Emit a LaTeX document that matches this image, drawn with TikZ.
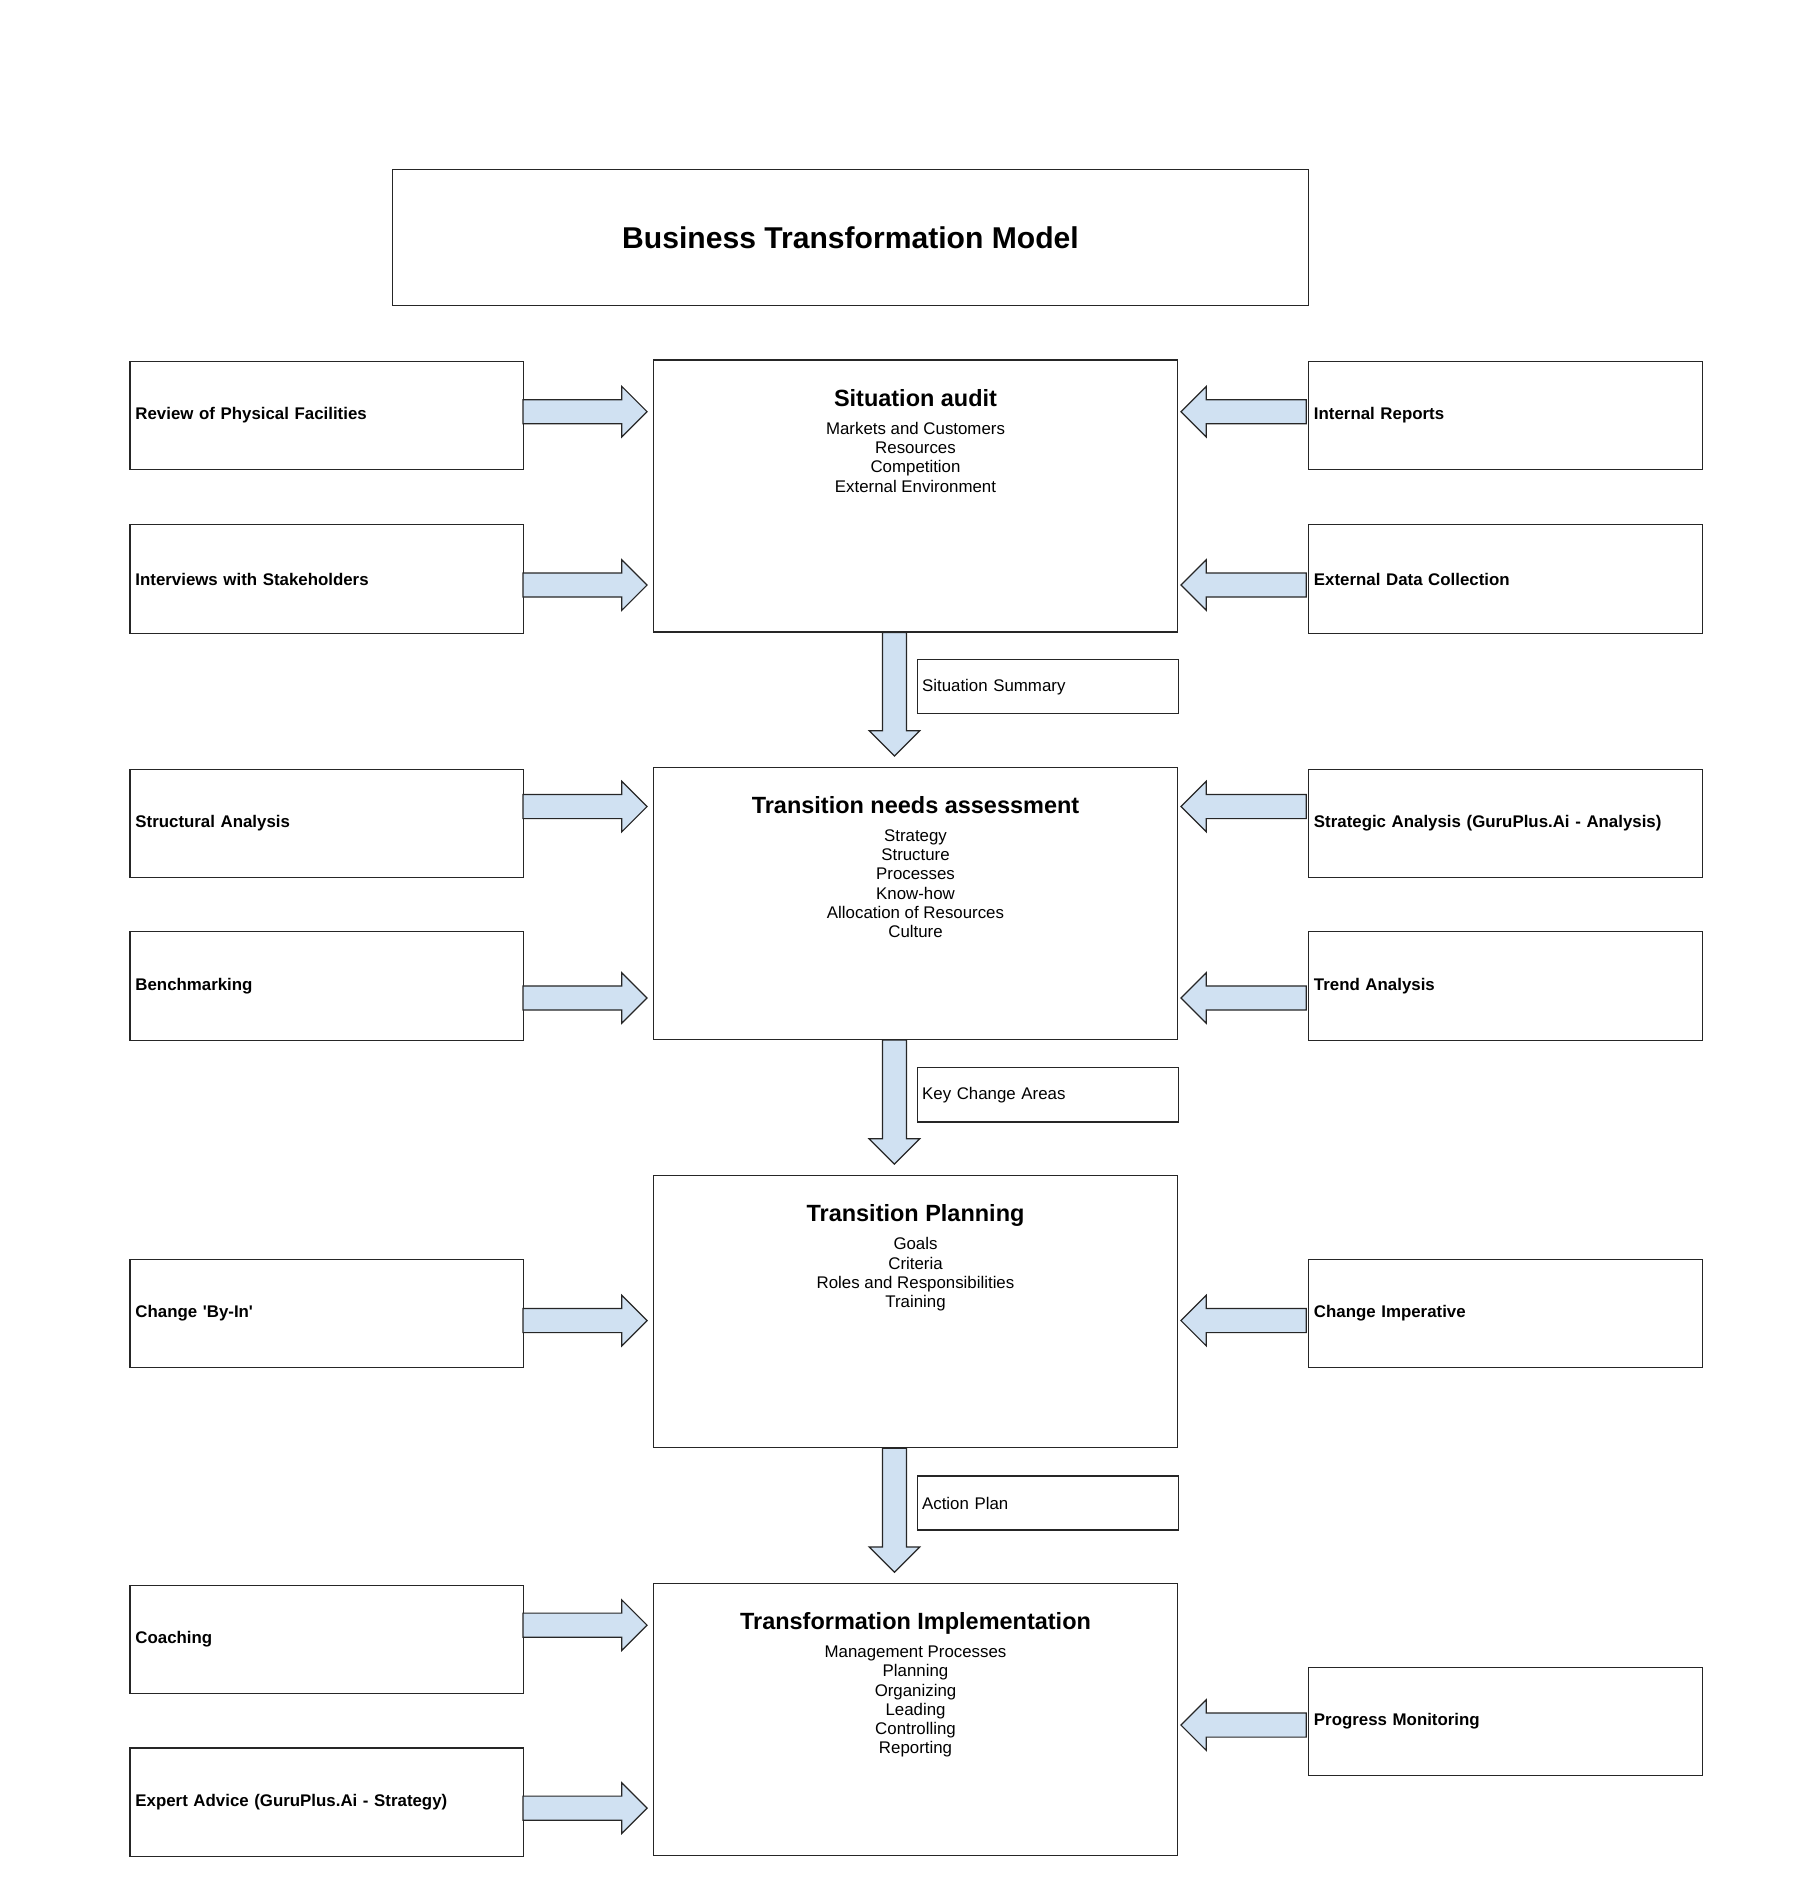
\documentclass[tikz,border=0pt]{standalone}
\usepackage{fontspec}
\setmainfont{Liberation Sans}
\usetikzlibrary{calc}

\definecolor{arrowblue}{RGB}{208,225,242}

% block arrow from start #1 to tip #2
\newcommand{\fatarrow}[2]{%
	\coordinate (h) at ($(#2)!21pt!(#1)$);
	\draw[fat] ($(#1)!10pt!90:(#2)$) -- ($(h)!10pt!90:(#2)$) -- ($(h)!21pt!90:(#2)$) -- (#2)
		-- ($(h)!21pt!-90:(#2)$) -- ($(h)!10pt!-90:(#2)$) -- ($(#1)!10pt!-90:(#2)$) -- cycle;}

\begin{document}
\begin{tikzpicture}
	[x=1pt,y=-1pt,
	 box/.style={draw=black!85, line width=1pt, rectangle, inner sep=0pt},
	 side/.style={box, minimum width=327pt, minimum height=90pt, text width=318pt, align=left,
		font=\bfseries\fontsize{14}{16}\selectfont},
	 stage/.style={box, minimum width=435pt, minimum height=226pt},
	 head/.style={anchor=base, font=\bfseries\fontsize{19.5}{23}\selectfont},
	 items/.style={anchor=north, inner sep=0pt, align=center, font=\fontsize{14}{16}\selectfont},
	 tag/.style={box, minimum width=217pt, minimum height=45pt, text width=209pt, align=left,
		font=\fontsize{14}{16}\selectfont},
	 fat/.style={draw=black!85, line width=1pt, fill=arrowblue, line join=miter}]
	\useasboundingbox (0,0) rectangle (1504,1570);

	\node[box, minimum width=761pt, minimum height=113pt, font=\bfseries\fontsize{25}{30}\selectfont]
		(title) at (706.5,197.5) {Business Transformation Model};

	% stages
	\node[stage] (audit) at (760.5,412) {};
	\node[stage] (needs) at (760.5,750.5) {};
	\node[stage] (plan) at (760.5,1089.5) {};
	\node[stage] (impl) at (760.5,1428.5) {};

	\node[head] at ($(audit.north)+(0,39)$) {Situation audit};
	\node[items] at ($(audit.north)+(0,52)$) {Markets and Customers\\Resources\\Competition\\External Environment};
	\node[head] at ($(needs.north)+(0,39)$) {Transition needs assessment};
	\node[items] at ($(needs.north)+(0,52)$) {Strategy\\Structure\\Processes\\Know-how\\Allocation of Resources\\Culture};
	\node[head] at ($(plan.north)+(0,39)$) {Transition Planning};
	\node[items] at ($(plan.north)+(0,52)$) {Goals\\Criteria\\Roles and Responsibilities\\Training};
	\node[head] at ($(impl.north)+(0,39)$) {Transformation Implementation};
	\node[items] at ($(impl.north)+(0,52)$) {Management Processes\\Planning\\Organizing\\Leading\\Controlling\\Reporting};

	% inputs on the left
	\node[side] (rev) at (271.5,345) {Review of Physical Facilities};
	\node[side] (intv) at (271.5,481) {Interviews with Stakeholders};
	\node[side] (struct) at (271.5,684) {Structural Analysis};
	\node[side] (bench) at (271.5,819) {Benchmarking};
	\node[side] (buyin) at (271.5,1091) {Change \textquotesingle By-In\textquotesingle};
	\node[side] (coach) at (271.5,1362) {Coaching};
	\node[side] (expert) at (271.5,1497) {Expert Advice (GuruPlus.Ai - Strategy)};

	% inputs on the right
	\node[side] (intrep) at (1250.5,345) {Internal Reports};
	\node[side] (extdata) at (1250.5,481) {External Data Collection};
	\node[side] (strat) at (1250.5,684) {Strategic Analysis (GuruPlus.Ai - Analysis)};
	\node[side] (trend) at (1250.5,819) {Trend Analysis};
	\node[side] (imper) at (1250.5,1091) {Change Imperative};
	\node[side] (monitor) at (1250.5,1430) {Progress Monitoring};

	% outputs
	\node[tag] (summary) at (870.5,570.5) {Situation Summary};
	\node[tag] (areas) at (870.5,909.5) {Key Change Areas};
	\node[tag] (action) at (870.5,1248.5) {Action Plan};

	\foreach \from/\to/\ay in {rev/audit/342,intv/audit/486,struct/needs/670,bench/needs/829,
		buyin/plan/1097,coach/impl/1350,expert/impl/1502}
	{
		\coordinate (s) at ($(\from.east |- 0,\ay)+(-1,0)$);
		\coordinate (t) at ($(\to.west |- s)+(-5,0)$);
		\fatarrow{s}{t}
	}
	\foreach \from/\to/\ay in {intrep/audit/342,extdata/audit/486,strat/needs/670,trend/needs/829,
		imper/plan/1097,monitor/impl/1433}
	{
		\coordinate (s) at ($(\from.west |- 0,\ay)+(-1.5,0)$);
		\coordinate (t) at ($(\to.east |- s)+(2.5,0)$);
		\fatarrow{s}{t}
	}
	\foreach \from/\to in {audit/needs,needs/plan,plan/impl}
	{
		\coordinate (s) at ($(\from.south)+(-17.5,0)$);
		\coordinate (t) at ($(\to.north)+(-17.5,-9)$);
		\fatarrow{s}{t}
	}
\end{tikzpicture}
\end{document}
